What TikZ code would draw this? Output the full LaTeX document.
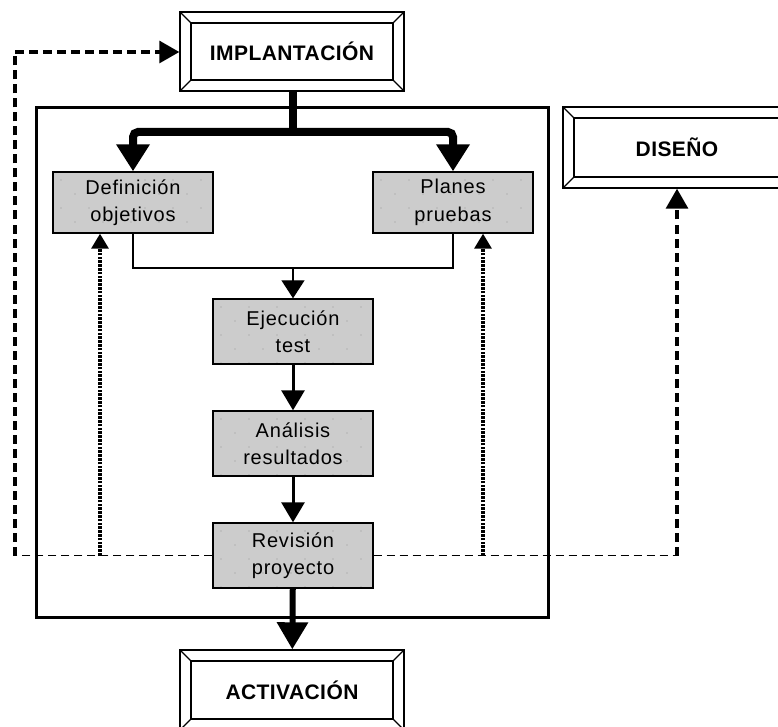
\documentclass[tikz,border=0pt]{standalone}
\usepackage{fontspec}
\setmainfont{Liberation Sans}
\usetikzlibrary{arrows.meta}

\definecolor{boxgray}{RGB}{204,204,204}
\definecolor{dotgray}{RGB}{150,150,150}

\tikzset{
  % bevelled (framed) stage box
  bevel/.style={draw, line width=1.4pt, fill=white, inner sep=0pt,
    font=\fontsize{21}{24}\selectfont\bfseries\addfontfeature{LetterSpace=2},
    path picture={
      \draw[line width=1.3pt]
        ([shift={(11pt,11pt)}]path picture bounding box.south west) rectangle
        ([shift={(-11pt,-11pt)}]path picture bounding box.north east);
      \draw[line width=1.3pt] (path picture bounding box.south west) -- ++(11pt,11pt);
      \draw[line width=1.3pt] (path picture bounding box.south east) -- ++(-11pt,11pt);
      \draw[line width=1.3pt] (path picture bounding box.north west) -- ++(11pt,-11pt);
      \draw[line width=1.3pt] (path picture bounding box.north east) -- ++(-11pt,-11pt);
    }},
  % grey activity box with faint dotted texture
  task/.style={draw, line width=1.4pt, fill=boxgray, inner sep=0pt,
    minimum width=160pt, align=center,
    font=\fontsize{20}{27.5}\selectfont\addfontfeature{LetterSpace=4},
    path picture={
      \foreach \i in {0,...,11}{\foreach \j in {0,...,4}{
        \fill[dotgray] ([shift={({\i*28pt+mod(\j,2)*14pt+8pt},{-\j*14pt-8pt})}]path picture bounding box.north west) circle (0.7pt);
      }}
    }},
  heavy/.style={line width=8pt, rounded corners=5pt, -{Triangle[width=32pt,length=27pt]}},
  thinlink/.style={line width=1.3pt},
  steplink/.style={line width=3pt, -{Triangle[width=23pt,length=20pt]}},
  dashthin/.style={line width=1.6pt, dash pattern=on 8pt off 5pt},
  dashthick/.style={line width=3.2pt, dash pattern=on 9pt off 5pt},
  dotlink/.style={line width=3.2pt, dash pattern=on 2.6pt off 1.2pt, -{Triangle[width=17pt,length=15pt]}},
}

\begin{document}
\begin{tikzpicture}[x=1pt,y=-1pt]
\useasboundingbox (0,0) rectangle (778,727);
\clip (0,0) rectangle (778,727);

% outer frame
\draw[line width=3pt] (36,108) rectangle (548,617);

% stage boxes
\node[bevel, minimum width=224pt, minimum height=79pt] (impl) at (292,51.5) {IMPLANTACIÓN};
\node[bevel, minimum width=228pt, minimum height=81pt] (dis) at (677,147.5) {DISEÑO};
\node[bevel, minimum width=224pt, minimum height=80pt] (act) at (292,690) {ACTIVACIÓN};

% activity boxes
\node[task, minimum height=61pt] (def) at (133,202.5) {Definición\\objetivos};
\node[task, minimum height=61pt] (plan) at (453,202.5) {Planes\\pruebas};
\node[task, minimum height=65pt] (eje) at (293,331.5) {Ejecución\\test};
\node[task, minimum height=65pt] (ana) at (293,443.5) {Análisis\\resultados};
\node[task, minimum height=65pt] (rev) at (293,555.5) {Revisión\\proyecto};

% split from IMPLANTACIÓN to both planning tasks
\coordinate (split) at (293,132);
\draw[line width=8pt] (impl.south -| split) -- (split);
\draw[heavy] (split) -| (def.north);
\draw[heavy] (split) -| (plan.north);

% merge into execution
\coordinate (merge) at (293,268);
\draw[thinlink] (def.south) |- (merge);
\draw[thinlink] (plan.south) |- (merge);
\draw[thinlink, -{Triangle[width=23pt,length=18pt]}] (merge) -- (eje.north);

% sequential steps
\draw[steplink] (eje) -- (ana);
\draw[steplink] (ana) -- (rev);
\draw[line width=6pt, -{Triangle[width=30pt,length=27pt]}] (rev) -- (act);

% feedback to IMPLANTACIÓN
\coordinate (fbl) at (15,555.5);
\coordinate (fbtop) at (15,52);
\draw[dashthin] (rev.west) -- (fbl);
\draw[dashthick] (fbl) -- (fbtop);
\draw[dashthick, -{Triangle[width=22pt,length=20pt]}] (fbtop) -- (impl.west |- fbtop);

% feedback to DISEÑO
\coordinate (fbr) at (677,555.5);
\draw[dashthin] (rev.east) -- (fbr);
\draw[dashthick, -{Triangle[width=22pt,length=20pt]}] (fbr) -- (dis.south);

% feedback to planning tasks
\coordinate (dl) at (100,555.5);
\coordinate (dr) at (483,555.5);
\draw[dotlink] (dl) -- (dl |- def.south);
\draw[dotlink] (dr) -- (dr |- plan.south);
\end{tikzpicture}
\end{document}
